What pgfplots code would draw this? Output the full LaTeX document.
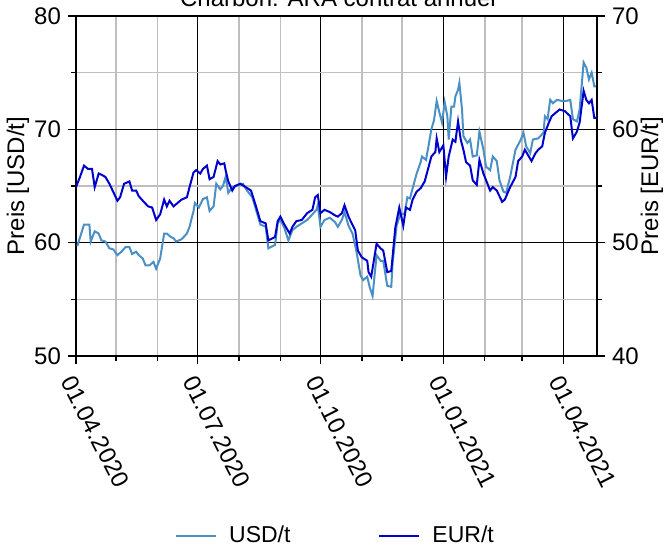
\documentclass[border=0pt]{standalone}
\usepackage{fontspec}
\setmainfont{Liberation Sans}
\usepackage{pgfplots}
\pgfplotsset{compat=1.18}
\definecolor{usdc}{RGB}{74,144,196}
\definecolor{eurc}{RGB}{0,0,205}
\pgfplotstableread{
d v
1 59.7
6 61.6
10 61.6
11 60.1
14 61.0
17 60.8
19 60.2
22 60.1
25 59.5
28 59.4
31 58.9
34 59.2
37 59.6
40 59.6
42 59.0
45 59.2
47 58.9
50 58.6
52 58.0
55 58.0
58 58.3
60 57.7
63 58.6
66 60.8
68 60.8
71 60.5
73 60.4
75 60.1
79 60.3
83 60.8
85 61.4
88 62.8
89 63.5
92 63.1
95 63.85
98 64.0
100 62.8
103 63.2
105 65.2
108 64.7
110 65.0
112 65.8
114 64.4
117 64.9
120 65.0
125 65.2
128 64.6
132 64.0
135 62.8
138 61.6
142 61.4
144 59.5
149 59.8
151 61.7
153 62.0
156 61.3
159 60.2
162 61.1
165 61.4
169 61.7
173 62.0
177 62.5
180 62.9
181 63.3
183 61.4
186 62.0
190 62.2
194 61.8
196 61.4
199 62.0
201 62.7
204 61.5
207 60.8
210 59.2
213 57.1
215 56.7
218 57.0
220 56.0
222 55.3
225 58.9
228 58.4
230 58.4
233 56.2
236 56.1
237 58.2
240 61.5
243 62.6
246 62.5
248 64.0
250 63.9
252 64.8
255 66.1
258 67.1
259 67.6
262 67.3
264 68.6
266 70.0
268 70.8
270 72.5
272 71.5
274 70.6
276 72.4
278 71.15
279 69.1
281 72.0
283 72.0
284 72.9
286 73.5
287 74.1
289 71.7
290 69.4
293 68.8
295 69.1
297 67.6
300 67.7
302 69.8
305 68.2
307 66.7
310 66.4
312 67.6
315 67.2
317 65.5
320 64.5
322 64.4
325 65.8
329 68.2
333 69.1
335 69.7
337 68.5
340 67.9
342 69.1
346 69.2
350 69.7
351 71.15
353 70.9
355 72.6
357 72.3
360 72.6
364 72.5
367 72.5
370 72.6
372 70.9
375 70.7
377 71.75
380 75.9
382 75.45
384 74.4
386 75.0
388 73.8
390 73.8
}\usd
\pgfplotstableread{
d v
0 54.9
3 55.8
6 56.8
9 56.5
12 56.5
14 54.9
17 56.1
19 56.0
22 55.8
25 55.2
27 54.7
31 53.7
33 54.0
36 55.2
38 55.3
40 55.4
42 54.6
45 54.6
47 54.1
50 53.7
54 53.2
57 53.1
60 52.0
63 52.5
66 53.8
68 53.2
70 53.7
73 53.2
75 53.4
79 53.8
83 54.0
85 54.9
88 56.2
90 56.4
93 56.1
95 56.5
98 56.8
100 55.6
103 55.8
106 57.2
108 56.9
111 57.0
112 56.4
114 55.4
117 54.6
119 55.0
123 55.2
127 54.9
131 54.6
135 53.1
138 51.9
142 51.7
144 50.2
149 50.5
151 51.9
153 52.3
156 51.6
160 50.8
162 51.4
165 51.9
169 52.0
173 52.6
177 52.9
179 54.0
181 54.2
183 52.6
186 52.9
190 52.7
194 52.4
196 52.3
199 52.6
201 53.3
204 52.3
206 51.8
209 51.1
211 49.3
214 48.7
218 48.4
219 47.4
221 47.0
225 49.9
228 49.5
230 49.3
233 47.4
236 47.5
239 51.3
242 53.1
245 51.5
247 53.1
250 52.9
252 53.8
255 54.5
258 54.8
261 55.4
264 56.7
266 57.6
269 58.0
270 59.2
272 58.0
275 58.6
277 55.8
279 57.6
282 59.1
284 58.9
286 60.7
288 59.1
290 58.2
292 57.1
295 56.8
297 55.5
300 55.1
302 57.3
305 56.1
307 55.5
310 54.6
312 54.9
315 54.6
319 53.6
321 53.8
325 54.9
329 55.8
331 57.2
334 57.6
336 58.2
339 57.6
341 57.2
344 57.9
346 58.2
349 58.5
351 59.7
354 60.6
356 61.15
359 61.45
362 61.75
366 61.6
370 61.15
372 59.2
375 59.8
377 60.6
380 63.4
382 62.6
384 62.3
386 62.6
388 61.0
390 61.0
}\eur
\begin{document}
\begin{tikzpicture}
\pgfplotsset{
  base/.style={
    scale only axis, width=260.5pt, height=170pt,
    xmin=0, xmax=390,
    /pgf/number format/assume math mode=true,
    tick label style={font=\fontsize{12}{14}\selectfont},
    tick align=outside, major tick length=4pt, minor tick length=2.5pt,
    tick style={black, line width=0.7pt},
    axis line style={black, line width=0.8pt},
  }
}
\begin{axis}[base,
  ymin=50, ymax=80,
  xtick={0,91,183,275,365},
  xticklabels={01.04.2020,01.07.2020,01.10.2020,01.01.2021,01.04.2021},
  minor xtick={30,61,122,153,214,244,306,334},
  ytick={50,60,70,80}, minor ytick={55,65,75},
  xtick pos=bottom, ytick pos=left,
  grid=both,
  major grid style={black, line width=0.75pt},
  minor grid style={black!25, line width=0.75pt},
  xticklabel style={rotate=-63, anchor=north west, xshift=1pt, yshift=1pt},
  legend columns=2,
  legend style={draw=none, fill=none, at={(0.5,0)}, anchor=center, yshift=-90pt,
    font=\fontsize{11.5}{13}\selectfont,
    /tikz/every odd column/.append style={column sep=4pt},
    /tikz/every even column/.append style={column sep=42pt}},
  legend cell align=left,
  legend image code/.code={\draw[#1] (0pt,0pt) -- (20pt,0pt);},
]
\addplot[usdc, line width=1pt] table[x=d, y=v] {\usd};
\addlegendentry{USD/t}
\addlegendimage{eurc, line width=1pt}
\addlegendentry{EUR/t}
\end{axis}
\begin{axis}[base,
  ymin=40, ymax=70,
  axis x line=none, axis y line*=right,
  ytick={40,50,60,70}, minor ytick={45,55,65},
]
\addplot[eurc, line width=1pt] table[x=d, y=v] {\eur};
\end{axis}
\node[rotate=90, font=\fontsize{12}{14}\selectfont] at (-29pt,85pt) {Preis [USD/t]};
\node[rotate=90, font=\fontsize{12}{14}\selectfont] at (288pt,85pt) {Preis [EUR/t]};
\node[anchor=base, font=\fontsize{12}{14}\selectfont] at (131pt,174.8pt) {Charbon: ARA contrat annuel};
\pgfresetboundingbox
\useasboundingbox (-38pt,-95pt) rectangle (295pt,178pt);
\end{tikzpicture}
\end{document}
